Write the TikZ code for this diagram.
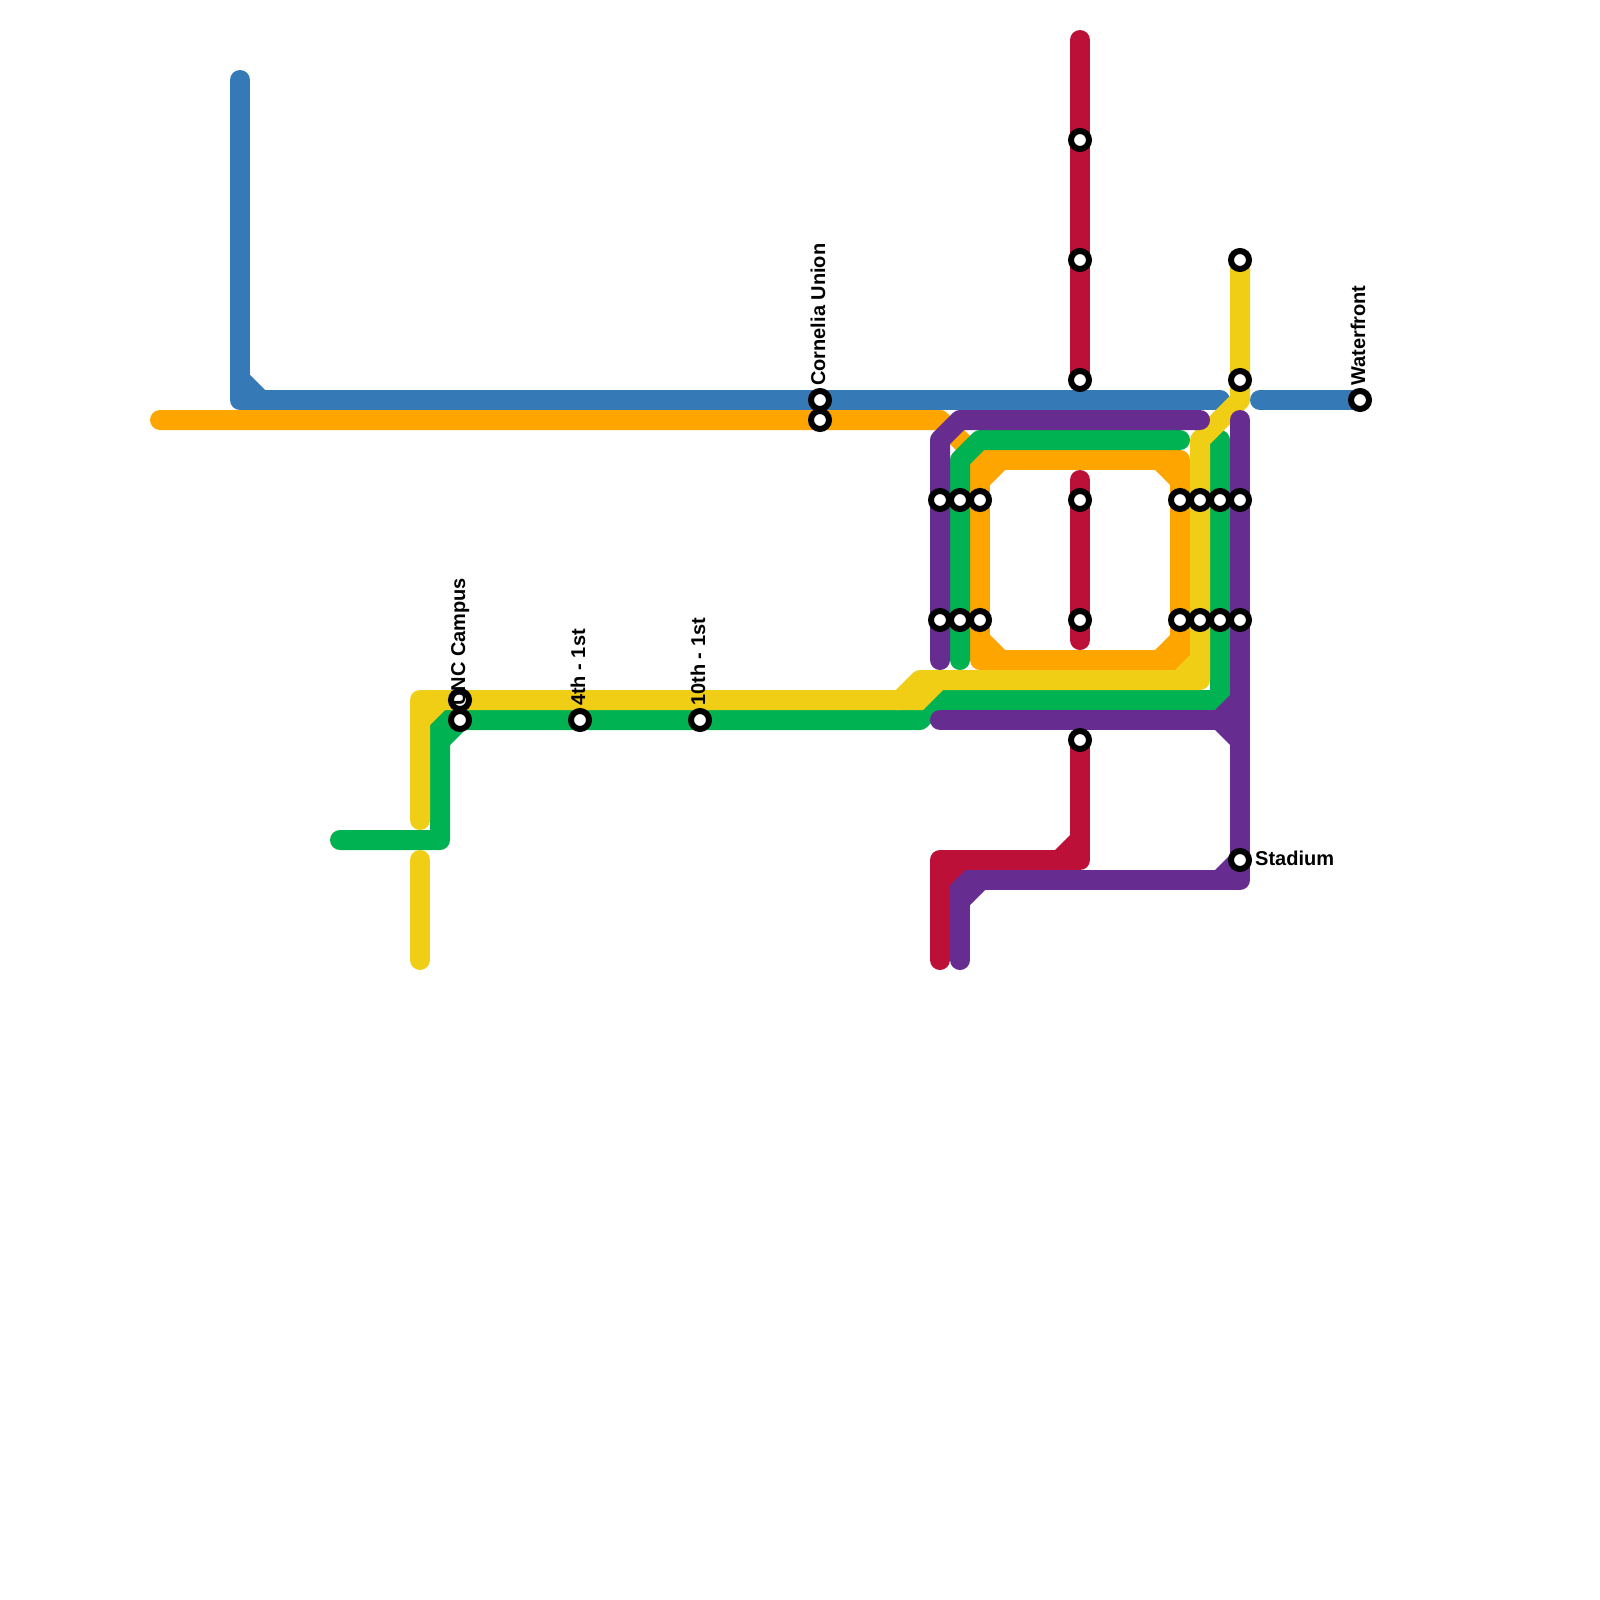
\documentclass[tikz,border=0pt]{standalone}
\usepackage{fontspec}
\setmainfont{Liberation Sans}
\definecolor{lineblue}{HTML}{357AB7}
\definecolor{lineorange}{HTML}{FFA500}
\definecolor{linegreen}{HTML}{00B251}
\definecolor{lineyellow}{HTML}{F0CE15}
\definecolor{linepurple}{HTML}{662C90}
\definecolor{linered}{HTML}{BD1038}

\begin{document}
\begin{tikzpicture}[x=1pt,y=-1pt,
 track/.style={line width=20pt,line cap=round,line join=round},
 stn/.style={circle,draw=black,fill=white,line width=6pt,minimum size=18pt,inner sep=0pt},
 uplabel/.style={rotate=90,anchor=base west,inner sep=0pt,font=\fontsize{20}{24}\selectfont\bfseries},
 sidelabel/.style={anchor=base west,inner sep=0pt,font=\fontsize{20}{24}\selectfont\bfseries}]
 \useasboundingbox (0,0) rectangle (1600,1600);
 % blue
 \draw[track,lineblue] (240,80)--(240,400)--(1220,400);
 \draw[track,lineblue] (1260,400)--(1360,400);
 \fill[lineblue] (250,375)--(250,390)--(265,390)--cycle;
 % orange
 \draw[track,lineorange] (160,420)--(940,420)--(980,460);
 \draw[track,lineorange] (980,460)--(1180,460)--(1180,660)--(980,660)--cycle;
 \fill[lineorange] (990,485)--(990,470)--(1005,470)--cycle;
 \fill[lineorange] (1170,485)--(1170,470)--(1155,470)--cycle;
 \fill[lineorange] (990,635)--(990,650)--(1005,650)--cycle;
 \fill[lineorange] (1170,635)--(1170,650)--(1155,650)--cycle;
 % green
 \draw[track,linegreen] (340,840)--(440,840)--(440,720)--(920,720)--(940,700)--(1220,700)--(1220,440);
 \draw[track,linegreen] (1180,440)--(980,440)--(960,460)--(960,660);
 \fill[linegreen] (450,745)--(450,730)--(465,730)--cycle;
 % yellow
 \draw[track,lineyellow] (1240,260)--(1240,400)--(1200,440)--(1200,680)--(920,680)--(900,700)--(420,700)--(420,820);
 \draw[track,lineyellow] (420,860)--(420,960);
 \fill[lineyellow] (943,690)--(923,710)--(895,710)--(915,690)--cycle;
 \fill[lineyellow] (1190,655)--(1190,670)--(1175,670)--cycle;
 \fill[lineyellow] (430,725)--(430,710)--(445,710)--cycle;
 % purple
 \draw[track,linepurple] (1200,420)--(960,420)--(940,440)--(940,660);
 \draw[track,linepurple] (940,720)--(1240,720);
 \draw[track,linepurple] (1240,420)--(1240,880)--(960,880)--(960,960);
 \fill[linepurple] (1230,695)--(1230,710)--(1215,710)--cycle;
 \fill[linepurple] (1230,745)--(1230,730)--(1215,730)--cycle;
 \fill[linepurple] (1230,855)--(1230,870)--(1215,870)--cycle;
 \fill[linepurple] (970,905)--(970,890)--(985,890)--cycle;
 % red
 \draw[track,linered] (1080,40)--(1080,380);
 \draw[track,linered] (1080,480)--(1080,640);
 \draw[track,linered] (1080,740)--(1080,860)--(940,860)--(940,960);
 \fill[linered] (1070,835)--(1070,850)--(1055,850)--cycle;
 \fill[linered] (950,885)--(950,870)--(965,870)--cycle;
 % stations
 \node[stn] (r1) at (1080,140) {};
 \node[stn] (r2) at (1080,260) {};
 \node[stn] (r3) at (1080,380) {};
 \node[stn] (y1) at (1240,260) {};
 \node[stn] (y2) at (1240,380) {};
 \node[stn] (waterfront) at (1360,400) {};
 \node[stn] (cornelia) at (820,400) {};
 \node[stn] (o1) at (820,420) {};
 \node[stn] (y3) at (460,700) {};
 \node[stn] (unc) at (460,720) {};
 \node[stn] (fourth) at (580,720) {};
 \node[stn] (tenth) at (700,720) {};
 \node[stn] (a1) at (940,500) {};
 \node[stn] (a2) at (960,500) {};
 \node[stn] (a3) at (980,500) {};
 \node[stn] (a4) at (1080,500) {};
 \node[stn] (a5) at (1180,500) {};
 \node[stn] (a6) at (1200,500) {};
 \node[stn] (a7) at (1220,500) {};
 \node[stn] (a8) at (1240,500) {};
 \node[stn] (b1) at (940,620) {};
 \node[stn] (b2) at (960,620) {};
 \node[stn] (b3) at (980,620) {};
 \node[stn] (b4) at (1080,620) {};
 \node[stn] (b5) at (1180,620) {};
 \node[stn] (b6) at (1200,620) {};
 \node[stn] (b7) at (1220,620) {};
 \node[stn] (b8) at (1240,620) {};
 \node[stn] (r4) at (1080,740) {};
 \node[stn] (stadium) at (1240,860) {};
 % labels
 \node[uplabel] (corneliatext) at (825,386) {Cornelia Union};
 \node[uplabel] (waterfronttext) at (1365,386) {Waterfront};
 \node[uplabel] (unctext) at (465,706) {UNC Campus};
 \node[uplabel] (fourthtext) at (585,706) {4th - 1st};
 \node[uplabel] (tenthtext) at (705,706) {10th - 1st};
 \node[sidelabel] (stadiumtext) at (1255,865) {Stadium};
\end{tikzpicture}
\end{document}
